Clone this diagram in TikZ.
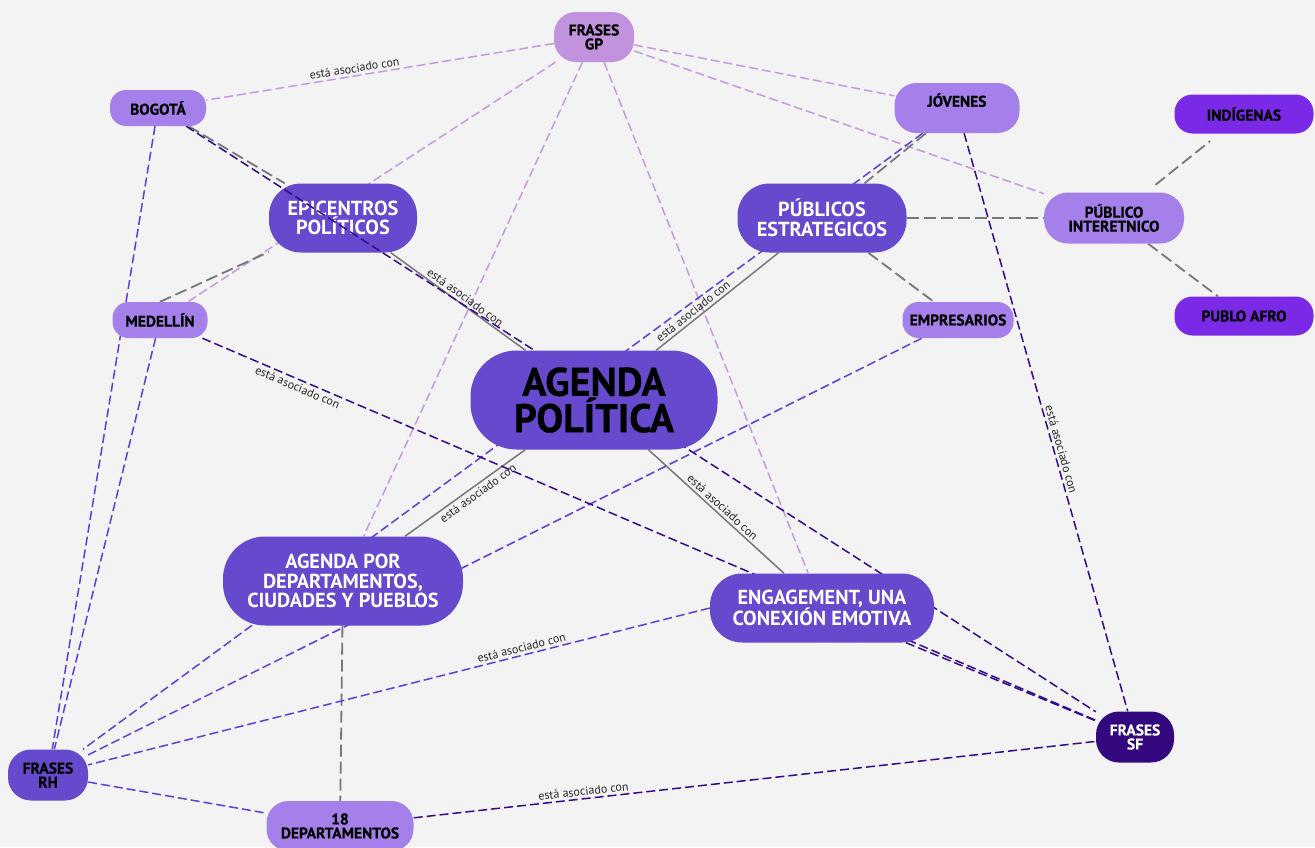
\documentclass[tikz,border=0pt]{standalone}
\usepackage{fontspec}
\setmainfont{PT Sans}
\newfontfamily\heavyfont{PT Sans Bold}[FakeBold=0.6]
\pgfdeclarelayer{bg}
\pgfdeclarelayer{edges}
\pgfdeclarelayer{low}
\pgfdeclarelayer{mid}
\pgfsetlayers{bg,edges,low,mid,main}
\definecolor{bgc}{HTML}{F3F3F3}
\definecolor{cgp}{HTML}{C192DE}
\definecolor{clight}{HTML}{A580EA}
\definecolor{cmed}{HTML}{6649CD}
\definecolor{cbright}{HTML}{7A2AE6}
\definecolor{cdark}{HTML}{33087E}
\definecolor{llav}{HTML}{C59BE0}
\definecolor{lpur}{HTML}{5C3FD6}
\definecolor{ldark}{HTML}{330A8C}
\definecolor{lgray}{HTML}{777777}
\begin{document}
\begin{tikzpicture}[x=1pt,y=-1pt,
  nd/.style={rectangle, align=center, inner sep=0pt, text=black},
  snode/.style={nd, font=\heavyfont\bfseries\fontsize{15.5}{14}\selectfont},
  mnode/.style={nd, font=\bfseries\fontsize{20.3}{19.5}\selectfont, text=white, fill=cmed},
  lbl/.style={font=\fontsize{12}{12}\selectfont, text=black!85, inner sep=1pt, sloped},
  elav/.style={draw=llav, line width=1.5pt, dash pattern=on 9pt off 4pt},
  epur/.style={draw=lpur, line width=1.5pt, dash pattern=on 9pt off 4pt},
  edark/.style={draw=ldark, line width=1.5pt, dash pattern=on 9pt off 4pt},
  egrayd/.style={draw=lgray, line width=1.8pt, dash pattern=on 12pt off 5pt},
  egrays/.style={draw=lgray, line width=1.5pt}
]
\begin{pgfonlayer}{bg}
\fill[bgc] (0,0) rectangle (1315,847);
\end{pgfonlayer}
\useasboundingbox (0,0) rectangle (1315,847);

% small nodes
\node[snode, fill=cgp, minimum width=80pt, minimum height=50pt, rounded corners=22pt] (gp) at (594,37) {FRASES\\GP};
\node[snode, fill=clight, minimum width=96pt, minimum height=36pt, rounded corners=16pt] (bog) at (158,108) {BOGOTÁ};
\node[snode, fill=clight, minimum width=125pt, minimum height=50pt, rounded corners=22pt] (jov) at (957,108) {\raisebox{16pt}{JÓVENES}};
\node[snode, fill=cbright, minimum width=139pt, minimum height=39pt, rounded corners=18pt] (ind) at (1244,114) {INDÍGENAS};
\node[snode, fill=clight, minimum width=140pt, minimum height=51pt, rounded corners=24pt] (inter) at (1114,218) {PÚBLICO\\INTERETNICO};
\node[snode, fill=clight, minimum width=95pt, minimum height=36pt, rounded corners=16pt] (med) at (160,320) {MEDELLÍN};
\node[snode, fill=clight, minimum width=111pt, minimum height=36pt, rounded corners=16pt] (emp) at (958,320) {EMPRESARIOS};
\node[snode, fill=cbright, minimum width=139pt, minimum height=39pt, rounded corners=18pt] (afro) at (1244,316) {PUBLO AFRO};
\node[snode, fill=cdark, text=white, minimum width=78pt, minimum height=51pt, rounded corners=23pt] (sf) at (1135,737) {FRASES\\SF};
\node[snode, fill=cmed, minimum width=80pt, minimum height=51pt, rounded corners=23pt] (rh) at (48,775) {FRASES\\RH};
\node[snode, fill=clight, minimum width=147pt, minimum height=50pt, rounded corners=22pt] (d18) at (340,826) {18\\DEPARTAMENTOS};

% big nodes
\begin{pgfonlayer}{low}
\node[mnode, minimum width=148pt, minimum height=69pt, rounded corners=32pt] (epi) at (343,218) {EPICENTROS\\POLÍTICOS};
\end{pgfonlayer}
\node[mnode, minimum width=169pt, minimum height=69pt, rounded corners=32pt] (pub) at (822,218) {PÚBLICOS\\ESTRATEGICOS};
\node[mnode, minimum width=240pt, minimum height=89pt, rounded corners=42pt] (apd) at (343,581) {AGENDA POR\\DEPARTAMENTOS,\\CIUDADES Y PUEBLOS};
\node[mnode, minimum width=224pt, minimum height=69pt, rounded corners=32pt] (eng) at (822,608) {ENGAGEMENT, UNA\\CONEXIÓN EMOTIVA};
\node[nd, fill=cmed, font=\heavyfont\bfseries\fontsize{40}{35}\selectfont, minimum width=247pt, minimum height=99pt, rounded corners=46pt] (ap) at (594,400) {AGENDA\\POLÍTICA};

\begin{pgfonlayer}{edges}
% lavender
\draw[elav] (gp) -- node[lbl, pos=0.57, above=1.5pt] {está asociado con} (bog);
\draw[elav] (gp) -- (med);
\draw[elav] (gp) -- (apd);
\draw[elav] (gp) -- (eng);
\draw[elav] (gp) -- (jov);
\draw[elav] (gp) -- (inter);
% gray dashed
\draw[egrayd] (bog) -- (epi);
\draw[egrayd] (med.north) -- (epi);
\draw[egrayd] (jov) -- (pub);
\draw[egrayd] (pub) -- (inter);
\draw[egrayd] (pub) -- (emp);
\draw[egrayd, shorten <=12pt, shorten >=12pt] (inter) -- (ind);
\draw[egrayd] (inter) -- (afro);
\draw[egrayd] (apd) -- (d18);
% gray solid
\draw[egrays] (epi) -- node[lbl, pos=0.52, above=1.5pt] {está asociado con} (ap);
\draw[egrays] (ap) -- node[lbl, pos=0.34, above=1.5pt] {está asociado con} (pub);
\draw[egrays] (ap) -- node[lbl, pos=0.51, above=1.5pt] {está asociado con} (eng);
\draw[egrays] (ap) -- node[lbl, pos=0.43, below=1.5pt] {está asociado con} (apd);
% purple
\draw[epur] (bog) -- (rh);
\draw[epur] (med) -- (rh);
\draw[epur] (jov) -- (rh);
\draw[epur] (emp) -- (rh);
\draw[epur] (eng.west) -- node[lbl, pos=0.3, above=1.5pt] {está asociado con} (rh);
\draw[epur] (rh) -- (d18);
% dark
\draw[edark] (med) -- node[lbl, pos=0.11, below=1.5pt] {está asociado con} (sf);
\draw[edark] (eng) -- (sf);
\draw[edark] (jov) -- node[lbl, pos=0.55, above=1.5pt] {está asociado con} (sf);
\draw[edark] (d18) -- node[lbl, pos=0.25, above=1.5pt] {está asociado con} (sf);
\end{pgfonlayer}
\begin{pgfonlayer}{mid}
\draw[edark] (bog) -- (sf);
\end{pgfonlayer}
\end{tikzpicture}
\end{document}
